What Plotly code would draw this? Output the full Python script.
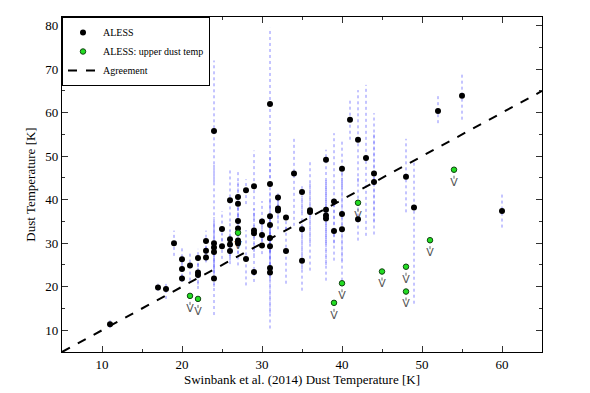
import plotly.graph_objects as go

# ALESS sources: Swinbank et al. (2014) temperature, fitted temperature, error range
aless_x = [11, 17, 18, 19, 20, 20, 20, 21, 22, 22, 22, 23, 23, 23,
           24, 24, 24, 24, 24, 25, 25, 26, 26, 26, 26,
           27, 27, 27, 27, 27, 27, 28, 28, 29, 29, 29, 29,
           30, 30, 30, 31, 31, 31, 31, 31, 31, 31, 31,
           32, 32, 32, 33, 33, 34, 35, 35, 35, 36, 36,
           38, 38, 38, 38, 39, 39, 40, 40, 40, 41, 42, 42,
           43, 44, 44, 48, 49, 52, 55, 60]
aless_t = [11.4, 19.8, 19.5, 30.0, 26.3, 24.1, 21.9, 24.9, 26.6, 23.3, 22.7, 30.5, 28.3, 26.7,
           55.8, 30.0, 29.0, 28.0, 21.9, 33.3, 29.3, 39.9, 30.9, 29.7, 28.2,
           40.6, 39.1, 35.1, 33.4, 30.6, 30.0, 42.2, 26.4, 43.1, 32.9, 32.3, 23.4,
           35.0, 31.9, 29.5, 62.0, 43.6, 36.2, 34.2, 31.2, 29.3, 24.3, 23.3,
           40.5, 38.0, 37.5, 35.9, 28.2, 46.0, 41.8, 33.2, 26.0, 37.6, 37.2,
           49.2, 37.7, 36.4, 35.7, 39.6, 32.8, 47.1, 36.7, 33.2, 58.4, 53.8, 35.5,
           49.6, 46.0, 44.1, 45.3, 38.2, 60.4, 63.9, 37.4]
aless_lo = [10.5, 19.1, 17.2, 27.1, 24.0, 22.0, 21.1, 21.4, 24.5, 20.5, 19.5, 28.5, 26.0, 25.6,
            44.0, 24.0, 22.0, 20.0, 13.5, 29.0, 26.4, 35.0, 27.0, 26.0, 25.2,
            36.0, 35.0, 32.0, 30.0, 27.5, 24.9, 39.0, 20.3, 36.0, 28.0, 27.0, 21.1,
            31.0, 29.0, 27.5, 45.0, 38.0, 30.0, 28.0, 25.0, 22.0, 14.0, 10.4,
            38.0, 35.5, 33.2, 33.0, 20.7, 34.0, 37.0, 24.0, 19.1, 30.0, 23.7,
            47.0, 30.0, 25.0, 21.4, 30.0, 26.0, 43.0, 26.0, 21.4, 53.8, 44.0, 30.6,
            31.7, 32.0, 35.0, 37.1, 16.1, 57.6, 58.4, 33.6]
aless_hi = [12.3, 20.7, 20.7, 32.9, 29.3, 26.5, 23.0, 28.3, 28.7, 26.0, 25.5, 32.9, 30.5, 28.5,
            72.0, 48.0, 36.0, 35.0, 30.0, 37.4, 32.0, 47.4, 35.0, 33.0, 31.0,
            47.0, 44.0, 39.0, 37.0, 34.0, 33.0, 44.7, 33.0, 51.3, 38.0, 37.0, 27.0,
            39.7, 35.0, 32.0, 79.5, 50.0, 42.0, 40.0, 37.0, 36.0, 34.0, 36.0,
            42.0, 40.5, 39.5, 37.2, 34.0, 54.2, 43.1, 41.0, 33.0, 49.2, 44.0,
            51.5, 45.0, 47.0, 44.0, 55.3, 40.0, 54.0, 47.0, 45.0, 63.3, 65.2, 45.0,
            66.4, 59.9, 55.0, 54.0, 48.5, 63.9, 69.4, 41.6]

# upper limits on dust temperature
upper_x = [21, 22, 27, 39, 40, 42, 45, 48, 48, 51, 54]
upper_t = [17.9, 17.2, 32.4, 16.3, 20.8, 39.3, 23.5, 24.6, 18.9, 30.7, 46.9]

agree_x = [5, 65]
agree_y = [5, 65]

SERIF = "Liberation Serif"

fig = go.Figure()

# dotted error bars
ex, ey = [], []
for x, lo, hi in zip(aless_x, aless_lo, aless_hi):
    ex += [x, x, None]
    ey += [lo, hi, None]
fig.add_trace(go.Scatter(x=ex, y=ey, mode="lines", showlegend=False, hoverinfo="skip",
                         line=dict(color="rgba(90,90,255,0.7)", width=1, dash="dot")))

# upper-limit arrows
ax, ay = [], []
for x, t in zip(upper_x, upper_t):
    ax += [x, x, None]
    ay += [t, t - 2.2, None]
fig.add_trace(go.Scatter(x=ax, y=ay, mode="lines", showlegend=False, hoverinfo="skip",
                         line=dict(color="#666666", width=1, dash="dot")))
fig.add_trace(go.Scatter(x=upper_x, y=[t - 3.0 for t in upper_t], mode="text", text=["V"] * len(upper_x),
                         textfont=dict(family="DejaVu Sans", size=11, color="#555555"),
                         showlegend=False, hoverinfo="skip"))

fig.add_trace(go.Scatter(x=aless_x, y=aless_t, mode="markers", name="ALESS",
                         marker=dict(color="black", size=6)))
fig.add_trace(go.Scatter(x=upper_x, y=upper_t, mode="markers", name="ALESS: upper dust temp",
                         marker=dict(color="#22dd22", size=5.5, line=dict(color="#114411", width=1))))
fig.add_trace(go.Scatter(x=agree_x, y=agree_y, mode="lines", name="Agreement",
                         line=dict(color="black", width=2, dash="dash")))

axis_common = dict(
    showgrid=False, zeroline=False, showline=True, linecolor="black", linewidth=1.2,
    mirror="ticks", ticks="inside", ticklen=6, tickwidth=1, tickcolor="#333333",
    tickfont=dict(family=SERIF, size=13, color="black"),
    minor=dict(ticks="inside", ticklen=3, dtick=5, tickcolor="#333333"),
)

# the page body adds an 8px offset, so the figure is sized to fit the window
fig.update_layout(
    width=582, height=385,
    margin=dict(l=54, r=48, t=8, b=39),
    plot_bgcolor="white", paper_bgcolor="white",
    font=dict(family=SERIF, size=13, color="black"),
    xaxis=dict(range=[5, 65], dtick=10, tick0=0,
               title=dict(text="Swinbank et al. (2014) Dust Temperature [K]", standoff=4,
                          font=dict(family=SERIF, size=13)),
               **axis_common),
    yaxis=dict(range=[5, 82], dtick=10, tick0=0,
               title=dict(text="Dust Temperature [K]", standoff=6,
                          font=dict(family=SERIF, size=13)),
               **axis_common),
    legend=dict(x=0, y=1, xanchor="left", yanchor="top", bgcolor="white",
                bordercolor="black", borderwidth=1,
                font=dict(family=SERIF, size=10), tracegroupgap=0,
                itemwidth=30),
)

fig.write_html("out.html")
